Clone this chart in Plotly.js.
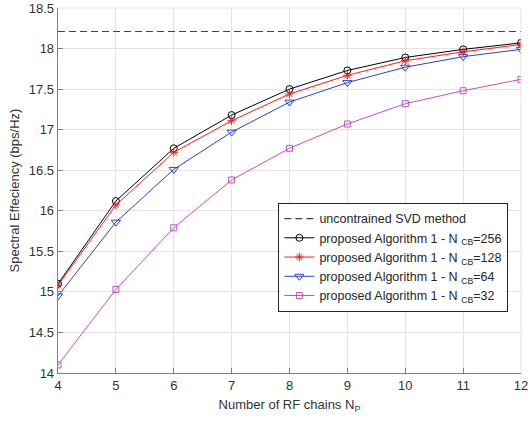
<!DOCTYPE html>
<html>
<head>
<meta charset="utf-8">
<script src="https://cdn.plot.ly/plotly-3.0.1.min.js"></script>
<style>html,body{margin:0;padding:0;background:#fff;}#chart{width:529px;height:423px;}</style>
</head>
<body>
<div id="chart"></div>
<script>
var NP = [4, 5, 6, 7, 8, 9, 10, 11, 12];
var svd = [18.21, 18.21, 18.21, 18.21, 18.21, 18.21, 18.21, 18.21, 18.21];
var cb256 = [15.10, 16.12, 16.77, 17.18, 17.50, 17.73, 17.89, 17.99, 18.07];
var cb128 = [15.08, 16.07, 16.72, 17.11, 17.44, 17.67, 17.85, 17.96, 18.05];
var cb64  = [14.95, 15.86, 16.51, 16.97, 17.34, 17.58, 17.77, 17.90, 17.99];
var cb32  = [14.10, 15.03, 15.79, 16.38, 16.77, 17.07, 17.32, 17.48, 17.62];
var yTicks = [14, 14.5, 15, 15.5, 16, 16.5, 17, 17.5, 18, 18.5];
var yTickText = ['14', '14.5', '15', '15.5', '16', '16.5', '17', '17.5', '18', '18.5'];
var names = ['uncontrained SVD method',
  'proposed Algorithm 1 - N <sub>CB</sub>=256',
  'proposed Algorithm 1 - N <sub>CB</sub>=128',
  'proposed Algorithm 1 - N <sub>CB</sub>=64',
  'proposed Algorithm 1 - N <sub>CB</sub>=32'];

var traces = [
  {x: NP, y: svd, name: names[0], mode: 'lines',
   line: {color: '#444444', width: 1.2, dash: '7px,4px'}},
  {x: NP, y: cb256, name: names[1], mode: 'lines+markers',
   line: {color: '#000000', width: 1},
   marker: {symbol: 'circle-open', size: 7, color: '#000000', line: {width: 1}}},
  {x: NP, y: cb128, name: names[2], mode: 'lines+markers',
   line: {color: '#ff1a1a', width: 1},
   marker: {symbol: 'asterisk-open', size: 7, color: '#ff1a1a', line: {width: 1, color: '#ff1a1a'}}},
  {x: NP, y: cb64, name: names[3], mode: 'lines+markers',
   line: {color: '#3040c4', width: 1},
   marker: {symbol: 'triangle-down-open', size: 8, color: '#3040c4', line: {width: 1}}},
  {x: NP, y: cb32, name: names[4], mode: 'lines+markers',
   line: {color: '#c050c0', width: 1},
   marker: {symbol: 'square-open', size: 6, color: '#c050c0', line: {width: 1}}}
];

var font = {family: 'Liberation Sans, Arial, sans-serif', size: 12.5, color: '#262626'};
var layout = {
  width: 529, height: 423,
  margin: {l: 58, r: 8, t: 8, b: 50},
  paper_bgcolor: '#ffffff', plot_bgcolor: '#ffffff',
  font: font,
  showlegend: true,
  xaxis: {
    range: [4, 12], tickvals: NP, ticktext: NP.map(String),
    showgrid: true, gridcolor: '#e3e3e3', gridwidth: 1,
    zeroline: false, showline: true, linecolor: '#808080', linewidth: 1.3,
    ticks: 'inside', ticklen: 5, tickcolor: '#808080',
    tickfont: {family: font.family, size: 13, color: '#333333'},
    title: {text: 'Number of RF chains N<sub>P</sub>', font: {family: font.family, size: 13, color: '#333333'}, standoff: 8}
  },
  yaxis: {
    range: [14, 18.5], tickvals: yTicks, ticktext: yTickText,
    showgrid: true, gridcolor: '#e3e3e3', gridwidth: 1,
    zeroline: false, showline: true, linecolor: '#808080', linewidth: 1.3,
    ticks: 'inside', ticklen: 5, tickcolor: '#808080',
    tickfont: {family: font.family, size: 13, color: '#333333'},
    title: {text: 'Spectral Effeciency (bps/Hz)', font: {family: font.family, size: 13, color: '#333333'}, standoff: 6}
  },
  shapes: [
    {type: 'line', xref: 'paper', yref: 'paper', x0: 0, x1: 1, y0: 1, y1: 1, line: {color: '#e3e3e3', width: 1}},
    {type: 'line', xref: 'paper', yref: 'paper', x0: 1, x1: 1, y0: 0, y1: 1, line: {color: '#e3e3e3', width: 1}}
  ],
  legend: {
    x: 0.476, y: 0.466, xanchor: 'left', yanchor: 'top',
    bgcolor: '#ffffff', bordercolor: '#262626', borderwidth: 1,
    font: {family: font.family, size: 12.5, color: '#262626'},
    tracegroupgap: 0, itemwidth: 30
  }
};

Plotly.newPlot('chart', traces, layout, {displayModeBar: false, staticPlot: true});
</script>
</body>
</html>
